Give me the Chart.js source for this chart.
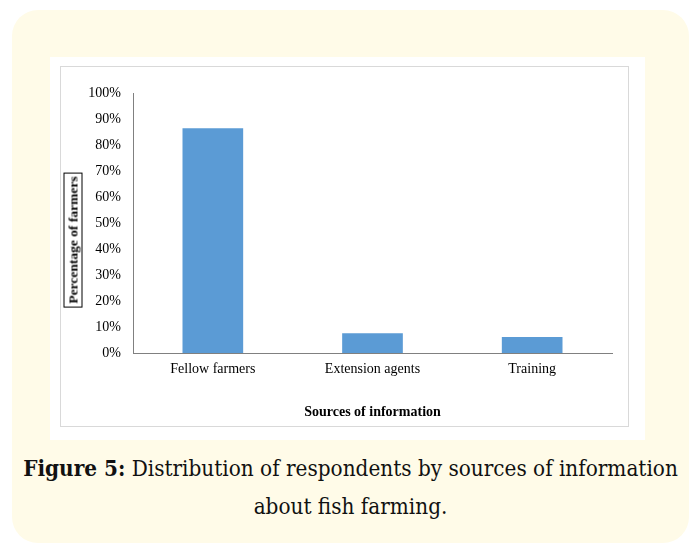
<!DOCTYPE html>
<html>
<head>
<meta charset="utf-8">
<script src="https://cdn.jsdelivr.net/npm/chart.js@4/dist/chart.umd.min.js"></script>
<style>
  html, body { margin:0; padding:0; background:#ffffff; }
  body { width:692px; height:546px; position:relative; overflow:hidden; }
  #cream { position:absolute; left:12px; top:10px; width:677px; height:533px; background:#fffbe8; border-radius:26px; }
  #panel { position:absolute; left:50px; top:57px; width:595px; height:383px; background:#ffffff; }
  #box { position:absolute; left:60px; top:66px; width:567px; height:359px; border:1px solid #d9d9d9; background:#fff; }
  #chartwrap { position:absolute; left:61px; top:67px; width:567px; height:359px; }
  #ytitle { position:absolute; left:72.5px; top:240px; transform:translate(-50%,-50%) rotate(-90deg);
            font-family:"Liberation Serif", serif; font-weight:bold; font-size:13.5px; color:#000;
            border:1px solid #000; padding:0px 3px; white-space:nowrap; line-height:17px; background:#fff; }
  .cap { position:absolute; left:12px; width:677px; text-align:center; font-family:"DejaVu Serif", serif; font-stretch:condensed; font-size:22.3px; line-height:26px; color:#111; }
</style>
</head>
<body>
<div id="cream"></div>
<div id="panel"></div>
<div id="box"></div>
<div id="chartwrap"><canvas id="c" width="567" height="359"></canvas></div>
<div id="ytitle">Percentage of farmers</div>
<div class="cap" style="top:455px;"><b>Figure 5:</b> Distribution of respondents by sources of information</div>
<div class="cap" style="top:493px;">about fish farming.</div>
<script>
const categories = ["Fellow farmers", "Extension agents", "Training"];
const percentages = [86.4, 7.6, 6.2];
const yTicks = [0, 10, 20, 30, 40, 50, 60, 70, 80, 90, 100];
const xTitle = "Sources of information";

new Chart(document.getElementById('c'), {
  type: 'bar',
  data: {
    labels: categories,
    datasets: [{
      data: percentages,
      backgroundColor: '#5b9bd5',
      borderWidth: 0,
      barPercentage: 0.38,
      categoryPercentage: 1.0
    }]
  },
  options: {
    responsive: false,
    animation: false,
    layout: { padding: { top: 26, right: 16, left: 0, bottom: 0 } },
    plugins: { legend: { display: false }, tooltip: { enabled: false } },
    scales: {
      y: {
        min: 0, max: 100,
        afterFit: (s) => { s.width = 72; },
        afterBuildTicks: (s) => { s.ticks = yTicks.map(v => ({ value: v })); },
        ticks: {
          padding: 12,
          color: '#000',
          font: { family: '"Liberation Serif", serif', size: 14 },
          callback: (v) => v + '%'
        },
        grid: { display: false, drawTicks: false },
        border: { display: true, color: '#808080', width: 1 }
      },
      x: {
        afterFit: (s) => { s.height = 73; },
        ticks: {
          padding: 8,
          color: '#000',
          font: { family: '"Liberation Serif", serif', size: 14 }
        },
        grid: { display: false, drawTicks: false },
        border: { display: true, color: '#808080', width: 1 },
        title: {
          display: true,
          text: xTitle,
          color: '#000',
          font: { family: '"Liberation Serif", serif', size: 14, weight: 'bold' },
          padding: { top: 0, bottom: 5 }
        }
      }
    }
  }
});
</script>
</body>
</html>
